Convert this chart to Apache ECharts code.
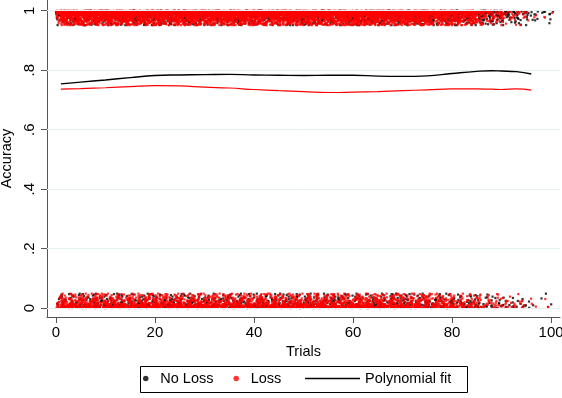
<!DOCTYPE html>
<html>
<head>
<meta charset="utf-8">
<script src="https://cdn.jsdelivr.net/npm/echarts@6/dist/echarts.min.js"></script>
<style>
html,body{margin:0;padding:0;background:#fff;}
#chart{width:562px;height:398px;}
</style>
</head>
<body>
<div id="chart"></div>
<script>
// ---- data ----
// Trials are grouped in blocks of 5 (1-5, 6-10, ..., 96-100); values = points per trial
const trialBlockSize = 5;
const noLossCorrectCounts = [18,18,18,18,18,18,18,18,18,18,18,18,18,18,18,18,18,16,9,3];
const lossCorrectCounts   = [60,60,60,60,60,60,60,60,60,60,60,60,60,60,56,50,40,18,6,1];
const noLossWrongCounts   = [12,12,12,12,12,12,12,12,12,12,12,12,12,12,11,10,8,5,3,1];
const lossWrongCounts     = [26,26,26,26,26,26,26,26,26,26,26,26,26,26,24,20,14,8,4,1];

// jitter offsets used for display (hand-typed table)
const jitterY = [0.02,0.31,0.08,0.55,0.14,0.72,0.05,0.27,0.91,0.11,0.38,0.03,0.63,0.19,0.46,0.07,0.84,0.24,0.12,0.51,0.01,0.35,0.68,0.09,0.29,0.16,0.97,0.42,0.06,0.22,0.58,0.13,0.33,0.04,0.77,0.18,0.48,0.10,0.26,0.65,0.15,0.39,0.00,0.87,0.21,0.53,0.08,0.30,0.17,0.44,0.61,0.05,0.25,0.80,0.12,0.36,0.02,0.70,0.20,0.49,0.94];
const jitterX = [-0.41,0.12,0.37,-0.08,0.46,-0.27,0.03,-0.49,0.22,-0.15,0.31,-0.36,0.09,0.44,-0.21,-0.02,0.27,-0.45,0.16,-0.31,0.39,-0.11,0.05,-0.38,0.48,-0.18,0.20,-0.04,0.33,-0.47,0.11,-0.25,0.42,-0.13,0.01,0.35,-0.33,0.18,-0.43,0.26,-0.07,0.49,-0.29,0.07,-0.19,0.40,-0.39,0.14,-0.23,0.29,-0.01,0.45,-0.35];

// polynomial fits
const fitTrials     = [1,5,10,15,20,25,30,35,40,45,50,55,60,65,70,75,80,85,88,90,93,96];
const fitNoLoss     = [0.754,0.760,0.767,0.775,0.782,0.784,0.785,0.786,0.784,0.783,0.782,0.783,0.783,0.780,0.779,0.781,0.789,0.796,0.798,0.797,0.795,0.787];
const fitLoss       = [0.736,0.738,0.741,0.745,0.748,0.747,0.743,0.740,0.735,0.731,0.728,0.725,0.726,0.728,0.731,0.734,0.737,0.737,0.736,0.735,0.737,0.733];

const xTicks = [0,20,40,60,80,100];
const yTicks = [0,0.2,0.4,0.6,0.8,1];

function jitterPoints(counts, base, dir, seed){
  const pts = [];
  counts.forEach(function(c, b){
    for (let j = 0; j < trialBlockSize; j++){
      const t = b*trialBlockSize + 1 + j;
      for (let k = 0; k < c; k++){
        const dx = jitterX[(k*7 + t*5 + seed) % jitterX.length];
        const dy = jitterY[(k + t*13 + seed*3) % jitterY.length];
        pts.push([t + dx*2, base + dir*dy*0.05]);
      }
    }
  });
  return pts;
}

const noLossPts = jitterPoints(noLossCorrectCounts, 1, -1, 3).concat(jitterPoints(noLossWrongCounts, 0, 1, 11));
const lossPts = jitterPoints(lossCorrectCounts, 1, -1, 7).concat(jitterPoints(lossWrongCounts, 0, 1, 19));

const FONT = 'Liberation Sans, Arial, Helvetica, sans-serif';
const chart = echarts.init(document.getElementById('chart'), null, {renderer:'canvas'});
chart.setOption({
  animation: false,
  backgroundColor: '#fff',
  grid: {left: 47, right: 2, top: 0, bottom: 81, containLabel: false, outerBoundsMode: 'none'},
  xAxis: {
    type: 'value', min: -1.8, max: 101.8,
    name: 'Trials', nameLocation: 'middle', nameGap: 23,
    nameTextStyle: {fontFamily: FONT, fontSize: 14.5, color: '#000'},
    axisLine: {show: true, onZero: false, lineStyle: {color: '#555', width: 1}},
    axisTick: {show: true, customValues: xTicks, length: 6, lineStyle: {color: '#555'}},
    axisLabel: {customValues: xTicks, fontFamily: FONT, fontSize: 15, color: '#000', margin: 8, hideOverlap: false},
    splitLine: {show: false}
  },
  yAxis: {
    type: 'value', min: -0.03, max: 1.036,
    name: 'Accuracy', nameLocation: 'middle', nameGap: 27, nameRotate: 90,
    nameTextStyle: {fontFamily: FONT, fontSize: 14.5, color: '#000'},
    axisLine: {show: true, onZero: false, lineStyle: {color: '#555', width: 1}},
    axisTick: {show: true, customValues: yTicks, length: 6, lineStyle: {color: '#555'}},
    axisLabel: {customValues: yTicks, rotate: 90, fontFamily: FONT, fontSize: 15, color: '#000', margin: 10,
      formatter: function(v){ if (v === 0) return '0'; if (v === 1) return '1'; return String(+v.toFixed(1)).replace(/^0\./, '.'); }},
    splitLine: {show: false}
  },
  legend: [
    {data: [{name: 'No Loss', icon: 'circle'}, {name: 'Loss', icon: 'circle'}], left: 143, top: 371, padding: 0, itemGap: 20,
     itemWidth: 19, itemHeight: 5.5, selectedMode: false,
     textStyle: {fontFamily: FONT, fontSize: 14.5, color: '#000'}},
    {data: [{name: 'Polynomial fit', icon: 'rect'}], left: 305, top: 371, padding: 0,
     itemWidth: 55, itemHeight: 1.3, selectedMode: false,
     textStyle: {fontFamily: FONT, fontSize: 14.5, color: '#000'}}
  ],
  graphic: [{type: 'rect', shape: {x: 140.5, y: 366.5, width: 327, height: 26}, style: {fill: 'none', stroke: '#000', lineWidth: 1}, z: 100}],
  series: [
    {name: 'grid', type: 'line', data: [], silent: true, z: 0,
     markLine: {silent: true, symbol: 'none', label: {show: false}, z: 0,
       lineStyle: {color: '#e6eff1', width: 1, type: 'solid'},
       data: yTicks.map(function(v){ return {yAxis: v}; })}},
    {name: 'No Loss', type: 'scatter', data: noLossPts, symbol: 'rect', symbolSize: 2.2,
     itemStyle: {color: '#000'}, silent: true, z: 2},
    {name: 'Loss', type: 'scatter', data: lossPts, symbol: 'rect', symbolSize: 2.2,
     itemStyle: {color: '#ff0000'}, silent: true, z: 2},
    {name: 'Polynomial fit', type: 'line', smooth: true, symbol: 'none', showSymbol: false,
     data: fitTrials.map(function(t, i){ return [t, fitNoLoss[i]]; }),
     lineStyle: {color: '#000', width: 1.4}, itemStyle: {color: '#000'}, silent: true, z: 3},
    {name: 'Polynomial fit (Loss)', type: 'line', smooth: true, symbol: 'none', showSymbol: false,
     data: fitTrials.map(function(t, i){ return [t, fitLoss[i]]; }),
     lineStyle: {color: '#ff0000', width: 1.2}, itemStyle: {color: '#ff0000'}, silent: true, z: 3}
  ]
});
</script>
</body>
</html>
